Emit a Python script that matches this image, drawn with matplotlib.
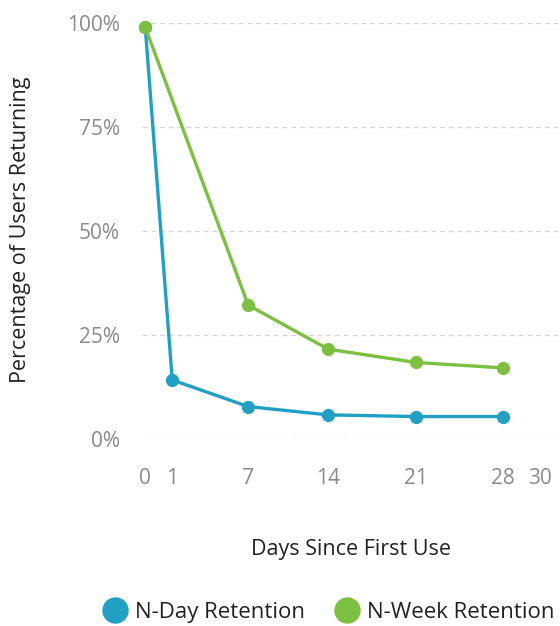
import matplotlib
matplotlib.use("Agg")
import numpy as np
import matplotlib.pyplot as plt
from matplotlib.lines import Line2D

plt.rcParams['font.family'] = ['Open Sans', 'DejaVu Sans']

days_daily = [0, 1, 7, 14, 21, 28]
n_day = [99, 14.2, 7.8, 5.8, 5.4, 5.4]

days_weekly = [0, 7, 14, 21, 28]
n_week = [99, 32.2, 21.6, 18.4, 17.1]

x_ticks = [0, 1, 7, 14, 21, 28, 30]
y_ticks = [0, 25, 50, 75, 100]

blue = '#21a0c4'
green = '#7dbf41'
tick_gray = '#8a8a8a'

# piecewise-linear day axis: early days get extra room
scale_days = np.array([-1.0, 0.0, 1.0, 7.0, 14.0, 21.0, 28.0, 30.0, 32.0])
scale_pos = np.array([-27.0, 0.0, 27.0, 103.0, 183.0, 271.0, 358.0, 395.0, 435.0])


def fwd(x):
    return np.interp(x, scale_days, scale_pos)


def inv(p):
    return np.interp(p, scale_pos, scale_days)


fig = plt.figure(figsize=(5.6, 6.26), dpi=100)
ax = fig.add_axes([0.254, 0.2987, 0.746, 0.6645])
ax.set_xscale('function', functions=(fwd, inv))

ax.plot(days_daily, n_day, color=blue, lw=2.4, marker='o', ms=8.5,
        clip_on=False, zorder=3)
ax.plot(days_weekly, n_week, color=green, lw=2.4, marker='o', ms=8.5,
        clip_on=False, zorder=4)

ax.set_xlim(inv(-3.0), inv(415.0))
ax.set_ylim(0, 100)
ax.set_yticks(y_ticks)
ax.set_yticklabels([f"{v}%" for v in y_ticks])
ax.set_xticks(x_ticks)
ax.set_xticklabels([str(v) for v in x_ticks])
ax.minorticks_off()

for s in ax.spines.values():
    s.set_visible(False)
ax.grid(axis='y', color='#d5d5d5', linestyle=(0, (4, 3)), lw=0.9)
ax.grid(axis='x', visible=False)
ax.set_axisbelow(True)
ax.tick_params(length=0, labelsize=15, colors=tick_gray)
ax.tick_params(axis='y', pad=16)
ax.tick_params(axis='x', pad=21)

ax.set_xlabel("Days Since First Use", fontsize=15.5, color='#222222', labelpad=36)
fig.text(0.036, 0.633, "Percentage of Users Returning", rotation=90,
         ha='center', va='center', fontsize=15.5, color='#222222')

handles = [
    Line2D([], [], color=blue, marker='o', ms=18, lw=0),
    Line2D([], [], color=green, marker='o', ms=18, lw=0),
]
fig.legend(handles, ["N-Day Retention", "N-Week Retention"],
           loc='center', bbox_to_anchor=(0.584, 0.022), ncol=2, frameon=False,
           fontsize=16, handlelength=1.4, handletextpad=0.2, columnspacing=1.2,
           labelcolor='#222222', borderpad=0.1)

fig.savefig("out.png", dpi=100)
